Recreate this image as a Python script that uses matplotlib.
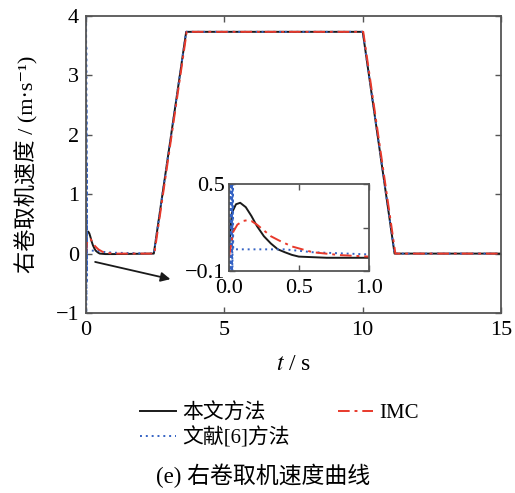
import numpy as np
import matplotlib.pyplot as plt

plt.rcParams['font.family'] = ['Liberation Serif', 'DejaVu Serif', 'Noto Sans CJK SC']
plt.rcParams['mathtext.fontset'] = 'stix'
plt.rcParams['axes.unicode_minus'] = True

# speed of the right coiler, m/s
t_ours = [0, 0.02, 0.05, 0.08, 0.12, 0.16, 0.2, 0.25, 0.3, 0.35, 0.4, 0.45, 0.5,
          0.7, 1.0, 2.45, 3.62, 10.0, 11.15, 15]
v_ours = [0.05, 0.30, 0.36, 0.37, 0.34, 0.28, 0.21, 0.14, 0.09, 0.05, 0.03, 0.012, 0.0,
          -0.008, -0.008, 0.0, 3.73, 3.73, 0.0, 0.0]

t_imc = [0, 0.03, 0.06, 0.1, 0.13, 0.16, 0.2, 0.25, 0.3, 0.36, 0.45, 0.6, 0.8,
         1.0, 2.47, 3.64, 10.02, 11.18, 15]
v_imc = [0.0, 0.17, 0.22, 0.245, 0.25, 0.245, 0.22, 0.18, 0.14, 0.11, 0.07, 0.03, 0.01,
         0.0, 0.0, 3.73, 3.73, 0.0, 0.0]

t_ref6 = [0, 0.003, 0.006, 0.009, 0.012, 0.015, 0.018, 0.021, 0.024, 0.027, 0.03, 0.035,
          0.4, 0.6, 1.0, 2.45, 3.62, 10.0, 11.15, 15]
v_ref6 = [0.0, 4.0, -1.0, 3.5, -0.8, 2.5, -0.5, 1.5, -0.3, 0.6, 0.05, 0.05,
          0.05, 0.03, 0.015, 0.0, 3.73, 3.73, 0.0, 0.0]

c_black = '#1a1a1a'
c_red = '#e8392b'
c_blue = '#3563c4'
spine_c = '#555555'


def style_axes(ax, size):
    for s in ax.spines.values():
        s.set_color(spine_c)
        s.set_linewidth(1.3)
    ax.tick_params(direction='in', top=True, right=True, length=4,
                   width=1.0, color=spine_c, labelsize=size, pad=3)


def draw(ax, lw=1.4):
    ax.plot(t_ours, v_ours, color=c_black, lw=lw, ls='-', label='本文方法')
    ax.plot(t_ref6, v_ref6, color=c_blue, lw=lw, ls=(0, (1, 2)), label='文献[6]方法')
    ax.plot(t_imc, v_imc, color=c_red, lw=lw, ls=(0, (6, 2.5, 1.5, 2.5)), label='IMC')


fig = plt.figure(figsize=(5.15, 4.93), dpi=100)
ax = fig.add_axes([0.167, 0.365, 0.806, 0.603])
draw(ax)
ax.set_xlim(0, 15)
ax.set_ylim(-1, 4)
ax.set_xticks([0, 5, 10, 15])
ax.set_yticks([-1, 0, 1, 2, 3, 4])
style_axes(ax, 16)
ax.tick_params(axis='y', pad=5)
ax.tick_params(axis='x', pad=6)
ax.set_xlabel('$t$ / s', fontsize=17, labelpad=10)
ax.set_ylabel('右卷取机速度 / (m\u00b7s\u207b\u00b9)', fontsize=16, labelpad=12)

ax.annotate('', xy=(3.05, -0.43), xytext=(0.33, -0.14),
            arrowprops=dict(arrowstyle='-|>', color=c_black, lw=1.3,
                            mutation_scale=14, shrinkA=0, shrinkB=0))

ins = fig.add_axes([0.4447, 0.45, 0.271, 0.177])
draw(ins)
ins.set_xlim(0, 1)
ins.set_ylim(-0.1, 0.5)
ins.set_xticks([0, 0.5, 1.0])
ins.set_xticklabels(['0.0', '0.5', '1.0'])
ins.set_yticks([-0.1, 0.2, 0.5])
ins.set_yticklabels(['\u22120.1', '', '0.5'])
style_axes(ins, 16)
ins.tick_params(axis='x', pad=6)

handles, labels = ax.get_legend_handles_labels()
fig.legend(handles, labels, ncol=2, loc='upper center', bbox_to_anchor=(0.543, 0.22),
           frameon=False, fontsize=15, handlelength=1.7, handletextpad=0.3,
           columnspacing=2.3, labelspacing=0.2)

fig.text(0.51, 0.035, '(e) 右卷取机速度曲线', ha='center', va='center', fontsize=16.5)

fig.savefig('out.png', dpi=100)
